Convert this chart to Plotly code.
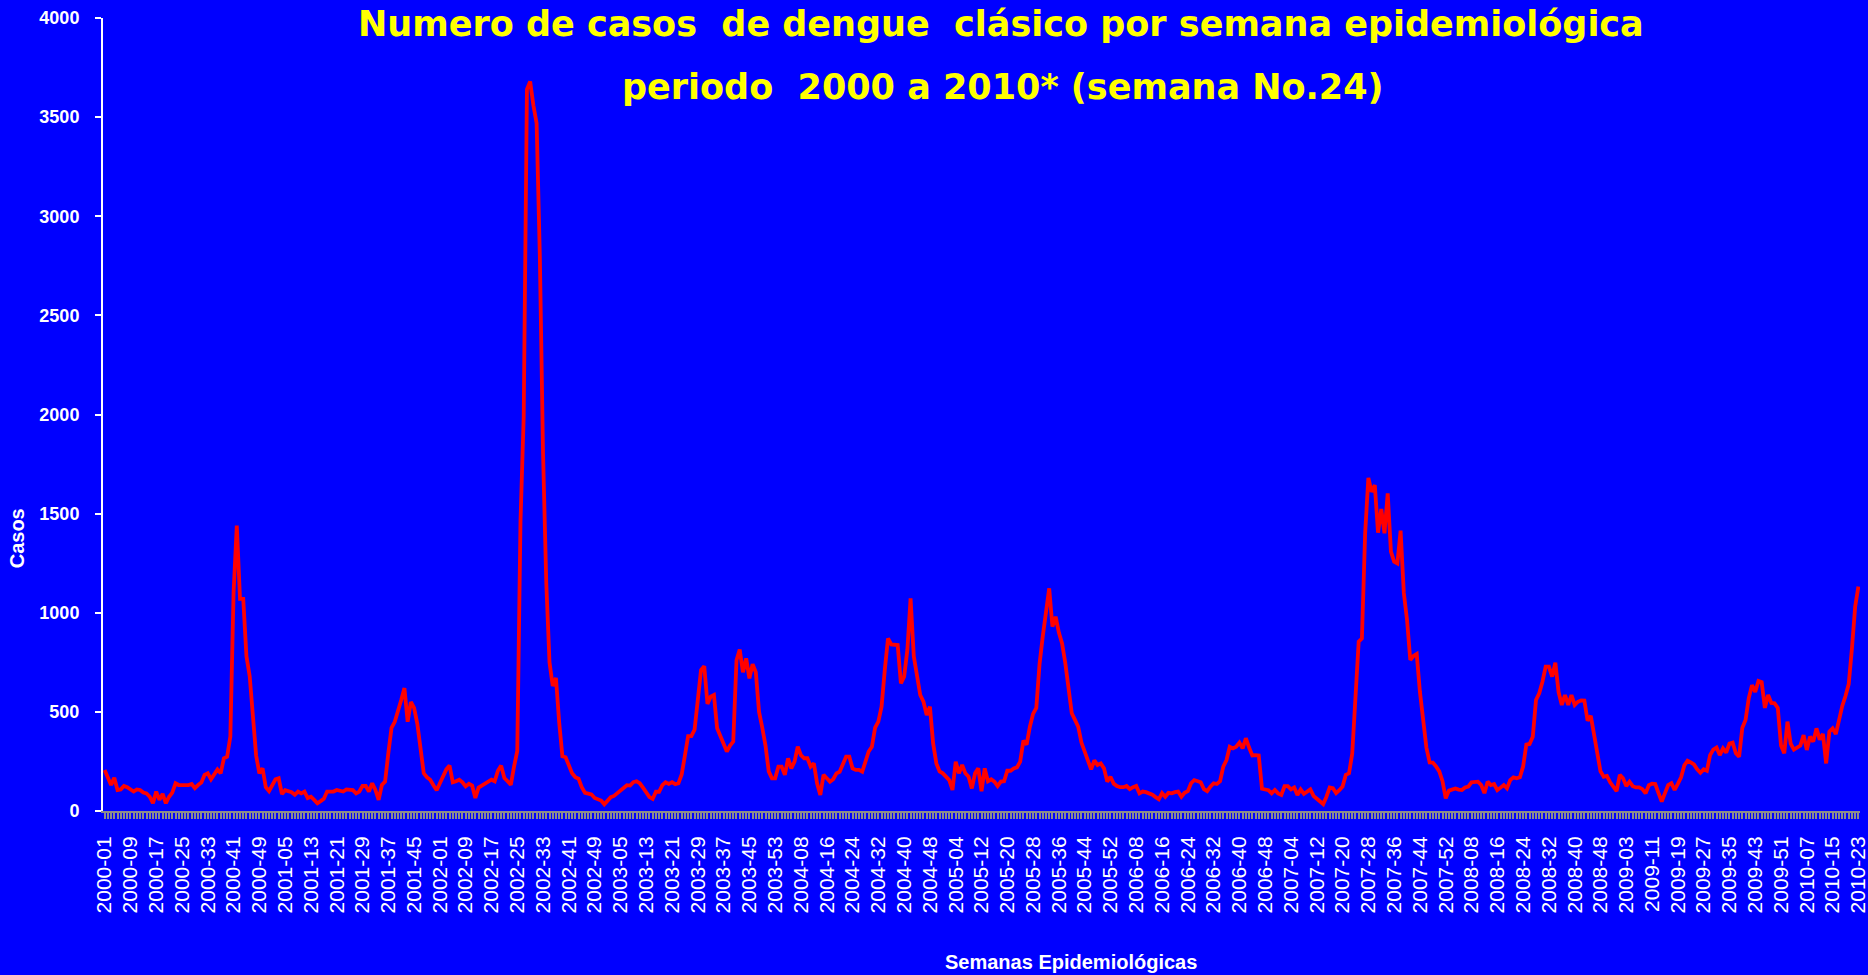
import plotly.graph_objects as go

# ---- data: weekly dengue cases ----
years = [2000, 2001, 2002, 2003, 2004, 2005, 2006, 2007, 2008, 2009, 2010]

w2000 = [207, 165, 131, 168, 106, 109, 126, 120, 106, 98, 109, 106, 93, 89, 72, 39, 98, 56, 86, 39,
         72, 93, 140, 131, 131, 131, 131, 136, 115, 131, 143, 182, 190, 160, 182, 210, 190, 266, 274, 375,
         1100, 1440, 1070, 1070, 780, 680, 480, 280, 190, 215, 120, 100]
w2001 = [130, 160, 165, 85, 105, 100, 95, 82, 98, 89, 98, 65, 72, 56, 39, 50, 62, 98, 98, 98,
         106, 100, 98, 109, 109, 105, 89, 98, 126, 126, 98, 140, 106, 56, 131, 148, 291, 420, 450, 500,
         560, 620, 450, 550, 520, 440, 300, 190, 170, 158, 130, 105]
w2002 = [140, 175, 210, 229, 145, 150, 158, 145, 124, 137, 128, 66, 118, 128, 137, 150, 158, 150, 203, 229,
         166, 150, 132, 224, 303, 1460, 1990, 3640, 3680, 3560, 3470, 2800, 1800, 1150, 750, 630, 671, 447, 276, 271,
         224, 190, 171, 163, 120, 92, 88, 84, 66, 58, 53, 34]
w2003 = [50, 70, 76, 90, 105, 120, 130, 128, 145, 150, 140, 118, 90, 70, 61, 97, 97, 130, 145, 137,
         145, 135, 140, 184, 280, 378, 378, 410, 560, 711, 731, 540, 577, 585, 417, 375, 330, 300, 330, 350,
         760, 815, 700, 770, 669, 740, 700, 500, 420, 330, 200, 165, 165]
w2004 = [224, 224, 182, 266, 215, 249, 324, 282, 266, 266, 224, 240, 140, 81, 182, 165, 148, 160, 190, 198,
         240, 274, 274, 215, 207, 207, 198, 257, 300, 324, 420, 451, 526, 711, 871, 840, 837, 837, 644, 677,
         812, 1073, 780, 694, 585, 551, 484, 526, 341, 240, 200, 190]
w2005 = [170, 156, 106, 249, 190, 232, 190, 173, 114, 190, 215, 100, 215, 150, 160, 148, 126, 148, 150, 203,
         203, 215, 220, 249, 355, 335, 425, 490, 520, 740, 880, 1000, 1123, 930, 980, 900, 845, 745, 627, 493,
         460, 425, 345, 300, 265, 210, 255, 232, 240, 215, 148, 173]
w2006 = [138, 126, 120, 120, 126, 110, 120, 126, 89, 98, 95, 89, 82, 70, 59, 90, 72, 92, 89, 95,
         98, 72, 92, 100, 140, 156, 148, 145, 110, 100, 123, 140, 136, 150, 224, 257, 324, 316, 324, 345,
         316, 367, 320, 280, 282, 280, 112, 109, 105, 89, 106, 89]
w2007 = [81, 125, 125, 109, 119, 81, 109, 86, 100, 109, 76, 62, 45, 35, 72, 119, 115, 90, 105, 123,
         182, 190, 290, 620, 854, 870, 1400, 1680, 1610, 1644, 1404, 1523, 1401, 1602, 1308, 1258, 1249, 1414, 1100, 963,
         762, 782, 792, 600, 470, 320, 245, 244, 225, 200, 150, 64]
w2008 = [103, 110, 114, 108, 106, 119, 123, 145, 148, 148, 131, 90, 148, 131, 136, 105, 118, 131, 114, 156,
         170, 165, 170, 224, 335, 338, 375, 560, 594, 652, 728, 728, 678, 748, 600, 535, 585, 535, 585, 535,
         551, 558, 557, 455, 480, 380, 280, 200, 173, 177, 145, 120, 100]
w2009 = [182, 165, 126, 148, 125, 119, 119, 110, 89, 130, 138, 136, 90, 47, 90, 131, 140, 106, 137, 170,
         230, 254, 245, 235, 210, 193, 210, 203, 282, 310, 320, 282, 316, 294, 340, 345, 291, 274, 420, 459,
         570, 635, 600, 656, 650, 520, 585, 545, 543, 520, 330, 291]
w2010 = [451, 340, 310, 320, 330, 383, 308, 375, 350, 417, 360, 388, 240, 400, 417, 388, 460, 530, 580, 640,
         820, 1030, 1132]

series_by_year = [w2000, w2001, w2002, w2003, w2004, w2005, w2006, w2007, w2008, w2009, w2010]

y_ticks = [0, 500, 1000, 1500, 2000, 2500, 3000, 3500, 4000]

title_line1 = "Numero de casos\u00a0 de dengue\u00a0 clásico por semana epidemiológica"
title_line2 = "periodo\u00a0 2000 a 2010* (semana No.24)"
x_title = "Semanas Epidemiológicas"
y_title = "Casos"

# ---- build category labels and values ----
week_labels = []
cases = []
for yr, vals in zip(years, series_by_year):
    for k, v in enumerate(vals, start=1):
        week_labels.append(f"{yr}-{k:02d}")
        cases.append(v)

pos = list(range(len(cases)))
tick_pos = pos[::8]
tick_txt = week_labels[::8]

BLUE = "#0000FF"
GRAY = "#8C8C8C"
TITLE_FONT = "DejaVu Sans, Verdana, sans-serif"
SANS = "Liberation Sans, Arial, sans-serif"

fig = go.Figure()
fig.add_trace(go.Scatter(
    x=pos, y=cases, mode="lines",
    line=dict(color="#FF0000", width=3.8),
    customdata=week_labels,
    hovertemplate="%{customdata}: %{y}<extra></extra>",
))

fig.update_layout(
    width=1868, height=975,
    autosize=False,
    paper_bgcolor=BLUE, plot_bgcolor=BLUE,
    margin=dict(l=103, r=8, t=18, b=164, autoexpand=False),
    showlegend=False,
    font=dict(family=SANS, color="white"),
    xaxis=dict(
        range=[-0.5, len(cases) - 0.5],
        tickmode="array", tickvals=tick_pos, ticktext=tick_txt,
        tickangle=-90,
        tickfont=dict(family=SANS, size=21, color="white"),
        ticks="outside", ticklen=6, tickwidth=2, tickcolor=GRAY,
        minor=dict(ticks="outside", ticklen=6, tickwidth=2, tickcolor=GRAY,
                   tickmode="linear", tick0=0, dtick=1),
        showline=True, linecolor=GRAY, linewidth=2,
        showgrid=False, zeroline=False,
        ticklabelstandoff=9,
        ticklabeloverflow="allow",
        automargin=False,
    ),
    yaxis=dict(
        range=[0, 4000],
        tickmode="array", tickvals=y_ticks,
        tickfont=dict(family=SANS, size=18, color="white", weight="bold"),
        ticks="outside", ticklen=6, tickwidth=2, tickcolor="white",
        showline=True, linecolor="white", linewidth=2,
        showgrid=False, zeroline=False,
        ticklabelstandoff=12,
        automargin=False,
    ),
    annotations=[
        dict(text=title_line1, xref="paper", yref="paper", x=0.511, y=0.9924,
             xanchor="center", yanchor="middle", showarrow=False,
             font=dict(family=TITLE_FONT, size=35, color="#FFFF00", weight="bold")),
        dict(text=title_line2, xref="paper", yref="paper", x=0.512, y=0.913,
             xanchor="center", yanchor="middle", showarrow=False,
             font=dict(family=TITLE_FONT, size=35, color="#FFFF00", weight="bold")),
        dict(text=x_title, xref="paper", yref="paper", x=0.551, y=-0.19,
             xanchor="center", yanchor="middle", showarrow=False,
             font=dict(family=SANS, size=20, color="white", weight="bold")),
        dict(text=y_title, xref="paper", yref="paper", x=-0.0489, y=0.344,
             xanchor="center", yanchor="middle", showarrow=False, textangle=-90,
             font=dict(family=SANS, size=20, color="white", weight="bold")),
    ],
)

fig.write_html(
    "out.html",
    config={"displayModeBar": False},
    post_script="document.body.style.margin='0';document.body.style.padding='0';"
                "document.body.style.overflow='hidden';",
)
